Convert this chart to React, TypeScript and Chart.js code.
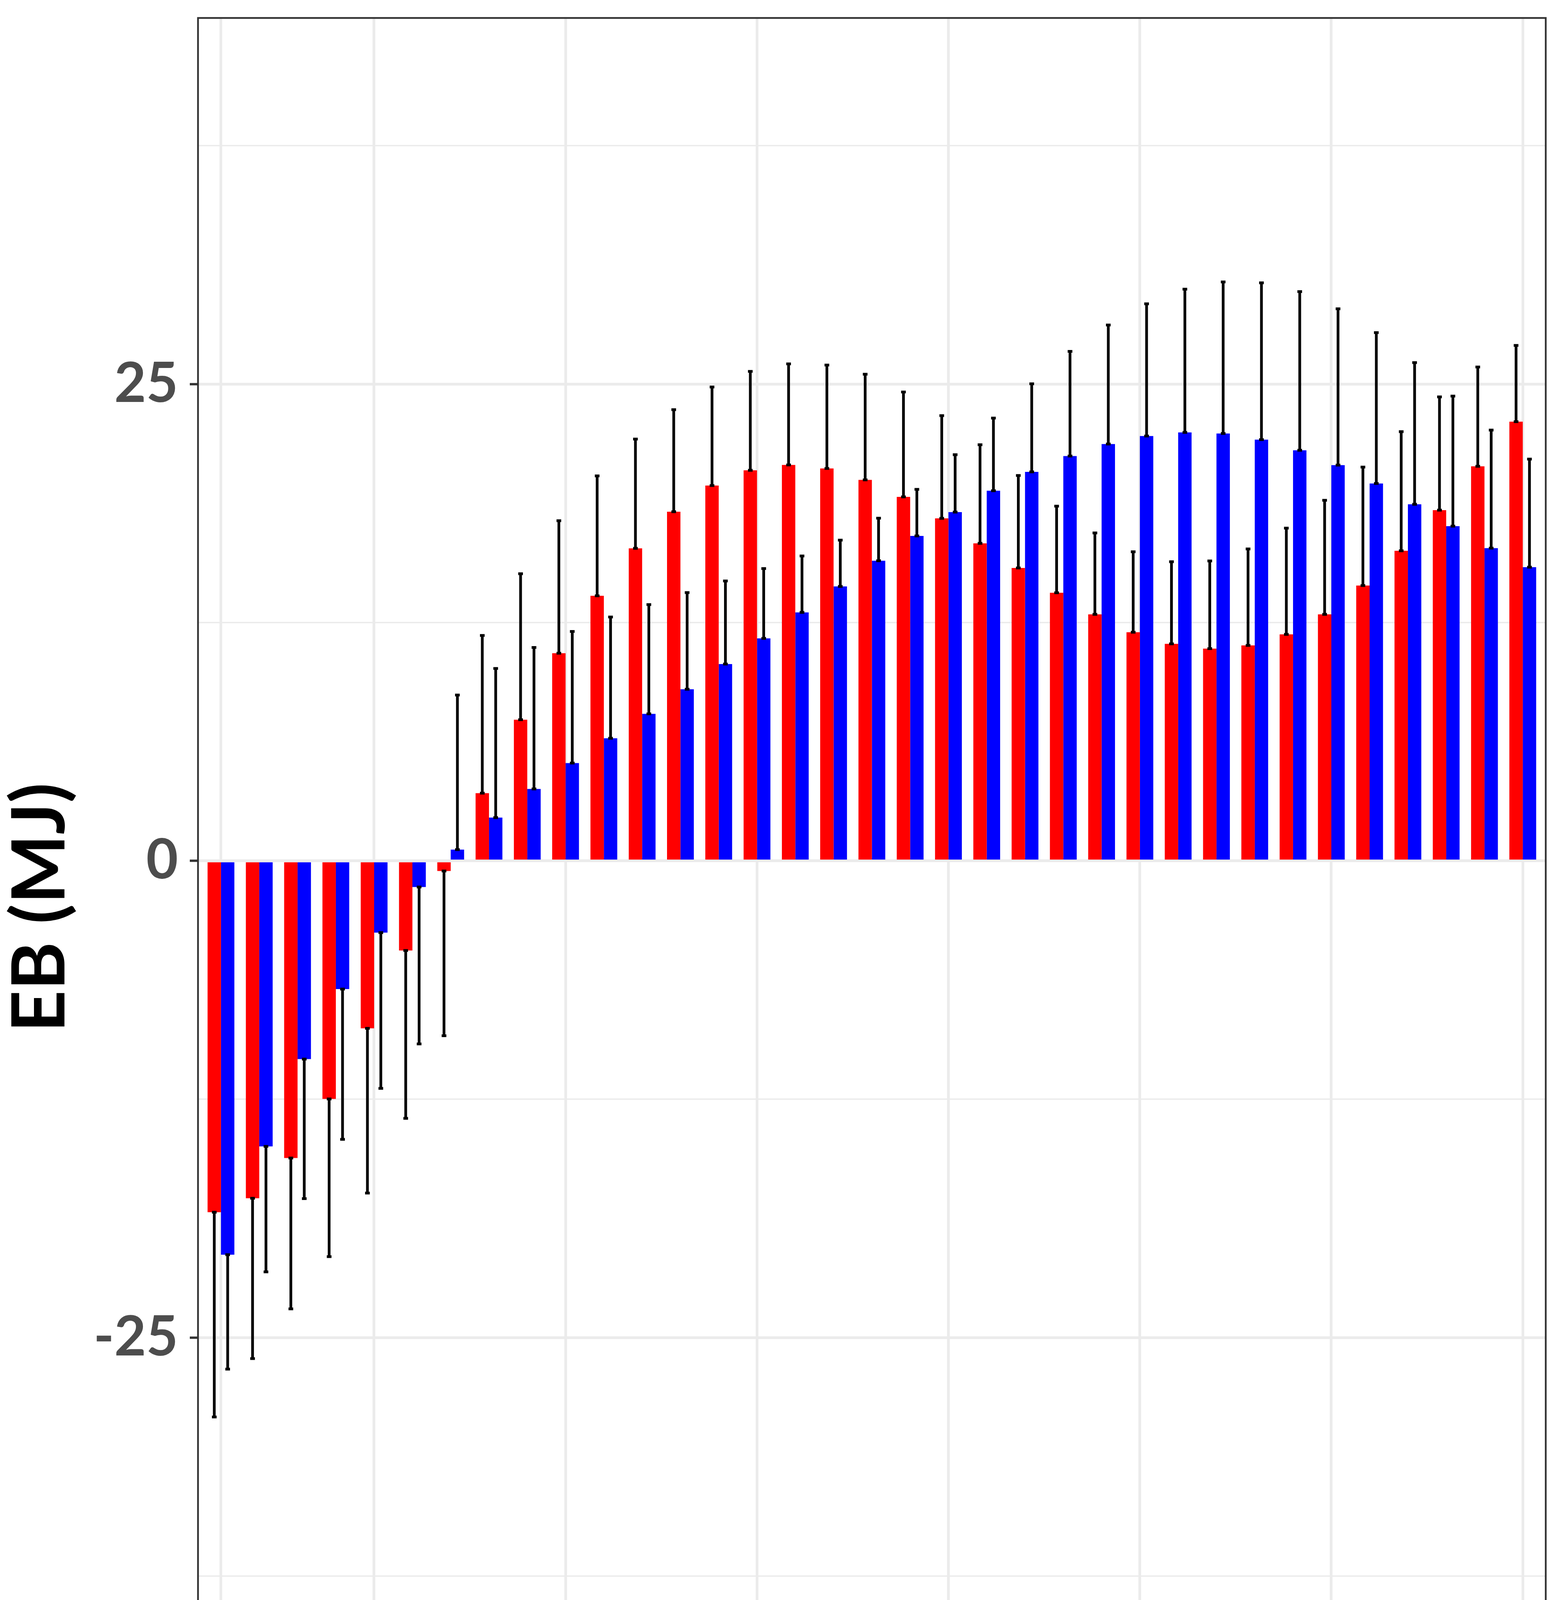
import { useEffect, useRef } from 'react';
import { Chart, registerables } from 'chart.js';

Chart.register(...registerables);

const weeks = [1, 2, 3, 4, 5, 6, 7, 8, 9, 10, 11, 12, 13, 14, 15, 16, 17, 18, 19, 20, 21, 22, 23, 24, 25, 26, 27, 28, 29, 30, 31, 32, 33, 34, 35];

// haplotype q
const qMean = [-18.42, -17.69, -15.58, -12.48, -8.78, -4.7, -0.53, 3.55, 7.4, 10.89, 13.9, 16.39, 18.31, 19.68, 20.48, 20.76, 20.58, 19.98, 19.09, 17.96, 16.65, 15.36, 14.06, 12.93, 11.99, 11.38, 11.13, 11.3, 11.88, 12.93, 14.44, 16.26, 18.39, 20.69, 23.03];
const qSd = [10.74, 8.41, 7.91, 8.27, 8.64, 8.8, 8.64, 8.27, 7.66, 6.95, 6.29, 5.73, 5.35, 5.17, 5.19, 5.3, 5.42, 5.54, 5.5, 5.39, 5.17, 4.85, 4.54, 4.27, 4.22, 4.31, 4.6, 5.06, 5.57, 5.98, 6.21, 6.25, 5.94, 5.21, 4.0];

// haplotype Q
const QMean = [-20.65, -14.97, -10.39, -6.72, -3.76, -1.37, 0.59, 2.27, 3.77, 5.13, 6.43, 7.71, 9.0, 10.32, 11.67, 13.03, 14.39, 15.74, 17.04, 18.29, 19.41, 20.4, 21.23, 21.86, 22.28, 22.47, 22.41, 22.09, 21.53, 20.75, 19.79, 18.7, 17.55, 16.4, 15.4];
const QSd = [6.0, 6.58, 7.32, 7.88, 8.17, 8.23, 8.11, 7.82, 7.42, 6.9, 6.36, 5.73, 5.07, 4.36, 3.66, 2.96, 2.43, 2.23, 2.44, 3.01, 3.81, 4.62, 5.49, 6.24, 6.93, 7.51, 7.95, 8.22, 8.32, 8.2, 7.91, 7.43, 6.82, 6.19, 5.67];

const xTickLabels = [1, 5, 10, 15, 20, 25, 30, 35];
const yTickLabels = [-25, 0, 25];
const yMinorBreaks = [-37.5, -12.5, 12.5, 37.5];

const FONT = 'Lato';

const errorBars = {
  id: 'errorBars',
  afterDatasetsDraw(chart: any) {
    const { ctx } = chart;
    const y = chart.scales.y;
    const means = [qMean, QMean];
    const sds = [qSd, QSd];
    ctx.save();
    ctx.strokeStyle = '#000000';
    ctx.lineWidth = 7;
    chart.data.datasets.forEach((_ds: any, i: number) => {
      const meta = chart.getDatasetMeta(i);
      meta.data.forEach((bar: any, j: number) => {
        const m = means[i][j];
        const end = m >= 0 ? m + sds[i][j] : m - sds[i][j];
        const y0 = y.getPixelForValue(m);
        const y1 = y.getPixelForValue(end);
        ctx.beginPath();
        ctx.moveTo(bar.x, y0);
        ctx.lineTo(bar.x, y1);
        ctx.moveTo(bar.x - 6, y0);
        ctx.lineTo(bar.x + 6, y0);
        ctx.moveTo(bar.x - 6, y1);
        ctx.lineTo(bar.x + 6, y1);
        ctx.stroke();
      });
    });
    ctx.restore();
  },
};

const panelBorder = {
  id: 'panelBorder',
  afterDraw(chart: any) {
    const { ctx, chartArea: a } = chart;
    ctx.save();
    ctx.strokeStyle = '#333333';
    ctx.lineWidth = 4.5;
    ctx.strokeRect(a.left, a.top, a.right - a.left, a.bottom - a.top);
    ctx.restore();
  },
};

export default function App() {
  const chartRef = useRef<HTMLCanvasElement>(null);
  const chartInstance = useRef<Chart | null>(null);

  useEffect(() => {
    if (!chartRef.current) return;
    const ctx = chartRef.current.getContext('2d');
    if (!ctx) return;

    if (chartInstance.current) {
      chartInstance.current.destroy();
    }

    chartInstance.current = new Chart(ctx, {
      type: 'bar',
      data: {
        datasets: [
          {
            label: 'q',
            data: weeks.map((w, i) => ({ x: w, y: qMean[i] })),
            backgroundColor: '#FF0000',
            borderWidth: 0,
          },
          {
            label: 'Q',
            data: weeks.map((w, i) => ({ x: w, y: QMean[i] })),
            backgroundColor: '#0000FF',
            borderWidth: 0,
          },
        ],
      },
      options: {
        animation: false,
        responsive: false,
        devicePixelRatio: 1,
        categoryPercentage: 0.7,
        barPercentage: 1.0,
        layout: {
          padding: { top: 46, right: 57, left: 0, bottom: 0 },
        },
        plugins: {
          legend: { display: false },
          tooltip: { enabled: false },
        },
        scales: {
          x: {
            type: 'linear',
            min: 0.4,
            max: 35.6,
            offset: false,
            afterBuildTicks: (s: any) => {
              s.ticks = xTickLabels.map((v) => ({ value: v }));
            },
            afterFit: (s: any) => {
              s.height = 713;
              s.paddingLeft = 0;
              s.paddingRight = 0;
            },
            ticks: {
              autoSkip: false,
              maxRotation: 0,
              padding: -1,
              color: '#4D4D4D',
              font: { family: FONT, size: 141, weight: 'bold', lineHeight: 1 },
            },
            grid: {
              offset: false,
              color: '#EBEBEB',
              lineWidth: 7,
              drawTicks: true,
              tickLength: 21,
              tickColor: '#333333',
              tickWidth: 6,
            },
            border: { display: false },
            title: {
              display: true,
              text: 'week',
              color: '#000000',
              font: { family: FONT, size: 185, weight: 'bold', lineHeight: 1 },
              padding: { top: 0, bottom: 377 },
            },
          },
          y: {
            type: 'linear',
            min: -49.1,
            max: 44.2,
            afterBuildTicks: (s: any) => {
              s.ticks = [...yTickLabels, ...yMinorBreaks]
                .sort((a, b) => a - b)
                .map((v) => ({ value: v }));
            },
            afterFit: (s: any) => {
              s.width = 507;
              s.paddingTop = 0;
              s.paddingBottom = 0;
            },
            ticks: {
              padding: 30,
              color: '#4D4D4D',
              font: { family: FONT, size: 141, weight: 'bold', lineHeight: 1 },
              callback: (v: any) => (yTickLabels.includes(Number(v)) ? String(v) : ''),
            },
            grid: {
              color: '#EBEBEB',
              lineWidth: (c: any) => (yTickLabels.includes(c.tick?.value) ? 7 : 3.5),
              drawTicks: true,
              tickLength: 21,
              tickColor: (c: any) => (yTickLabels.includes(c.tick?.value) ? '#333333' : 'rgba(0,0,0,0)'),
              tickWidth: 6,
            },
            border: { display: false },
            title: {
              display: true,
              text: 'EB (MJ)',
              color: '#000000',
              font: { family: FONT, size: 188, weight: 'bold', lineHeight: 1 },
              padding: { top: 10, bottom: 0 },
            },
          },
        },
      },
      plugins: [errorBars, panelBorder],
    } as any);

    return () => {
      if (chartInstance.current) {
        chartInstance.current.destroy();
        chartInstance.current = null;
      }
    };
  }, []);

  const legendText: React.CSSProperties = {
    position: 'absolute',
    top: 5048,
    fontFamily: FONT,
    fontWeight: 'bold',
    fontSize: 190,
    lineHeight: '190px',
    color: '#000000',
    whiteSpace: 'nowrap',
  };

  return (
    <div style={{ position: 'absolute', left: 0, top: 0, width: 4015, height: 5314, background: '#FFFFFF', overflow: 'hidden' }}>
      <canvas ref={chartRef} width={4015} height={5314} style={{ display: 'block' }}></canvas>
      <span style={{ ...legendText, left: 1496 }}>Haplotype</span>
      <div style={{ position: 'absolute', left: 2437, top: 5082, width: 131, height: 133, background: '#FF0000' }}></div>
      <span style={{ ...legendText, left: 2590 }}>q</span>
      <div style={{ position: 'absolute', left: 2707, top: 5082, width: 131, height: 133, background: '#0000FF' }}></div>
      <span style={{ ...legendText, left: 2859 }}>Q</span>
    </div>
  );
}
